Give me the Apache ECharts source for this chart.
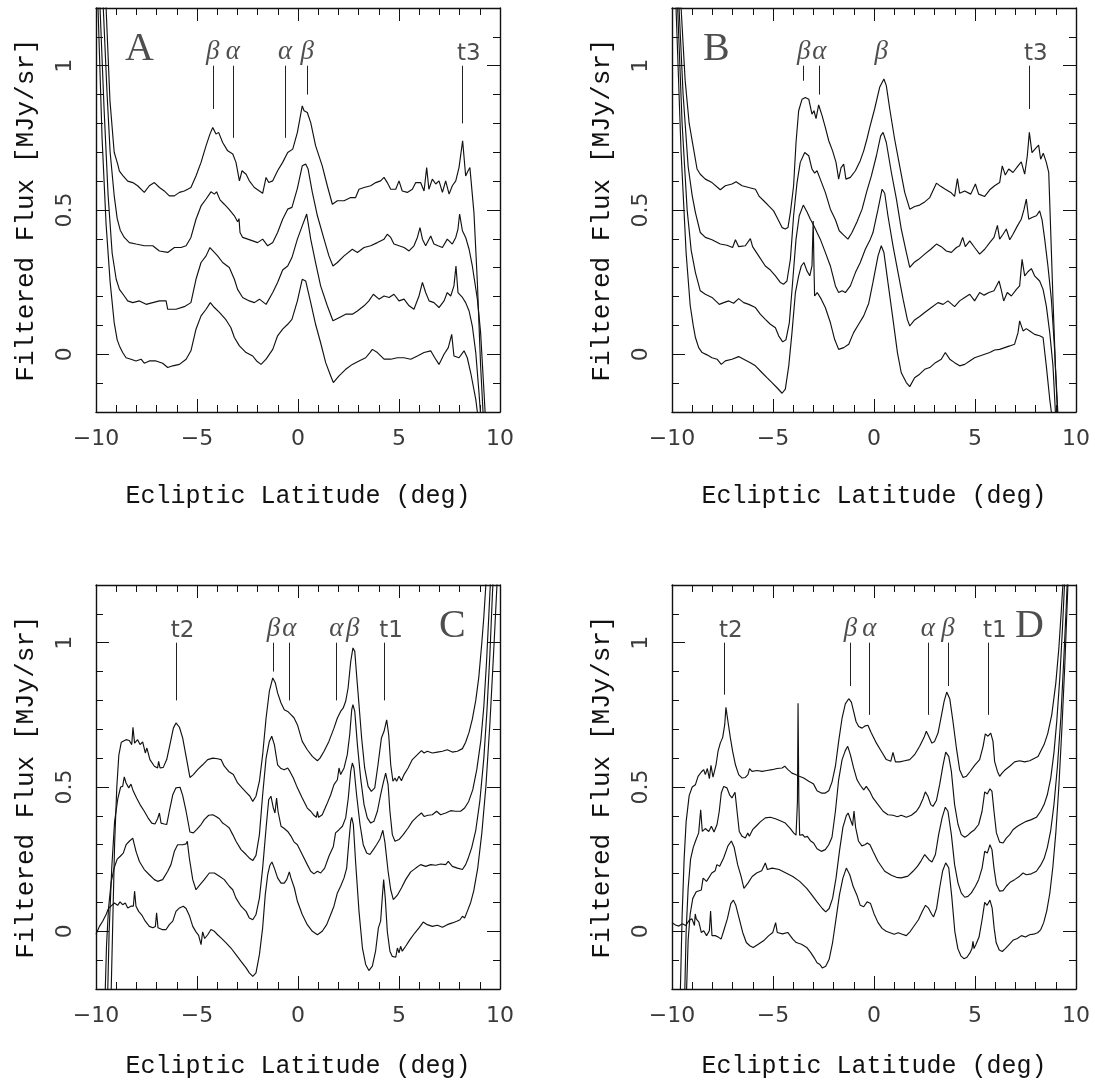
<!DOCTYPE html>
<html>
<head>
<meta charset="utf-8">
<script src="https://cdn.jsdelivr.net/npm/echarts@6/dist/echarts.min.js"></script>
<style>
html, body { margin: 0; padding: 0; background: #fff; }
#chart { width: 1095px; height: 1090px; }
</style>
</head>
<body>
<div id="chart"></div>
<script>
// tick labels
const latTicks = [-10, -5, 0, 5, 10];
const fluxTicks = [0, 0.5, 1];

// panel A, four scans (top to bottom), [latitude, flux]
const curveA1 = [[-9.62,1.45],[-9.5,1.2],[-9.31,0.88],[-9.1,0.7],[-8.93,0.66],[-8.84,0.635],[-8.68,0.62],[-8.43,0.6],[-8.18,0.595],[-7.94,0.584],[-7.61,0.561],[-7.36,0.584],[-7.11,0.595],[-6.86,0.578],[-6.62,0.566],[-6.37,0.549],[-6.12,0.549],[-5.87,0.561],[-5.63,0.566],[-5.46,0.572],[-5.3,0.578],[-5.05,0.618],[-4.8,0.665],[-4.55,0.723],[-4.36,0.763],[-4.22,0.786],[-4.06,0.763],[-3.93,0.769],[-3.73,0.734],[-3.48,0.705],[-3.23,0.694],[-3.07,0.665],[-2.9,0.601],[-2.77,0.636],[-2.57,0.624],[-2.41,0.601],[-2.16,0.578],[-1.91,0.566],[-1.75,0.558],[-1.58,0.613],[-1.45,0.595],[-1.25,0.601],[-1.01,0.636],[-0.76,0.665],[-0.51,0.699],[-0.26,0.711],[-0.03,0.769],[0.21,0.861],[0.3,0.844],[0.46,0.838],[0.63,0.803],[0.87,0.723],[1.2,0.653],[1.45,0.584],[1.7,0.52],[1.95,0.532],[2.28,0.532],[2.61,0.543],[2.85,0.543],[3.02,0.572],[3.27,0.578],[3.6,0.584],[3.85,0.595],[4.09,0.601],[4.26,0.613],[4.42,0.595],[4.59,0.572],[4.84,0.572],[5.0,0.601],[5.16,0.566],[5.41,0.561],[5.66,0.572],[5.83,0.595],[6.07,0.595],[6.24,0.566],[6.37,0.647],[6.48,0.572],[6.65,0.607],[6.82,0.59],[6.98,0.601],[7.15,0.561],[7.31,0.601],[7.48,0.555],[7.64,0.584],[7.81,0.601],[7.97,0.647],[8.15,0.74],[8.3,0.618],[8.42,0.636],[8.51,0.647],[8.71,0.491],[8.88,0.249],[9.04,-0.04],[9.16,-0.2],[9.29,-0.39]];
const curveA2 = [[-9.75,1.45],[-9.64,1.2],[-9.45,0.9],[-9.3,0.7],[-9.1,0.55],[-8.95,0.47],[-8.8,0.43],[-8.6,0.405],[-8.35,0.387],[-8.02,0.382],[-7.61,0.376],[-7.19,0.376],[-6.86,0.358],[-6.45,0.353],[-6.12,0.37],[-5.79,0.37],[-5.54,0.376],[-5.3,0.405],[-5.05,0.468],[-4.8,0.514],[-4.55,0.538],[-4.31,0.563],[-4.14,0.555],[-4.03,0.563],[-3.86,0.535],[-3.65,0.52],[-3.4,0.501],[-3.15,0.48],[-2.99,0.459],[-2.92,0.47],[-2.87,0.422],[-2.74,0.405],[-2.49,0.399],[-2.24,0.393],[-2.0,0.387],[-1.75,0.399],[-1.5,0.376],[-1.25,0.387],[-1.01,0.422],[-0.76,0.468],[-0.51,0.503],[-0.3,0.509],[-0.03,0.575],[0.21,0.653],[0.38,0.659],[0.5,0.642],[0.71,0.561],[0.96,0.48],[1.29,0.399],[1.53,0.341],[1.73,0.306],[1.95,0.318],[2.28,0.341],[2.69,0.364],[2.94,0.353],[3.27,0.37],[3.6,0.376],[3.93,0.387],[4.26,0.399],[4.42,0.416],[4.59,0.405],[4.75,0.382],[5.0,0.376],[5.25,0.37],[5.5,0.358],[5.74,0.376],[5.91,0.405],[6.04,0.439],[6.16,0.399],[6.32,0.376],[6.57,0.41],[6.73,0.382],[6.93,0.376],[7.15,0.37],[7.39,0.399],[7.64,0.382],[7.81,0.405],[7.92,0.434],[8.0,0.486],[8.14,0.428],[8.3,0.405],[8.47,0.364],[8.63,0.306],[8.88,0.191],[9.04,0.075],[9.21,-0.133],[9.27,-0.21],[9.35,-0.35]];
const curveA3 = [[-9.88,1.45],[-9.8,1.2],[-9.6,0.85],[-9.4,0.55],[-9.2,0.35],[-9.0,0.26],[-8.84,0.225],[-8.6,0.202],[-8.43,0.185],[-8.18,0.179],[-7.85,0.185],[-7.52,0.173],[-7.19,0.179],[-6.86,0.185],[-6.53,0.185],[-6.45,0.156],[-6.04,0.156],[-5.63,0.165],[-5.3,0.179],[-5.05,0.26],[-4.8,0.318],[-4.55,0.341],[-4.36,0.37],[-4.14,0.353],[-3.98,0.341],[-3.73,0.318],[-3.4,0.301],[-3.15,0.26],[-2.99,0.225],[-2.74,0.197],[-2.41,0.185],[-2.16,0.179],[-1.91,0.191],[-1.58,0.173],[-1.25,0.214],[-1.01,0.249],[-0.76,0.292],[-0.51,0.306],[-0.3,0.335],[-0.03,0.399],[0.21,0.445],[0.43,0.486],[0.63,0.399],[0.87,0.318],[1.12,0.237],[1.45,0.168],[1.73,0.116],[2.03,0.127],[2.36,0.139],[2.69,0.139],[2.94,0.15],[3.27,0.168],[3.51,0.185],[3.73,0.208],[4.01,0.191],[4.26,0.202],[4.51,0.197],[4.75,0.208],[5.0,0.185],[5.25,0.191],[5.5,0.168],[5.74,0.156],[5.99,0.202],[6.16,0.249],[6.32,0.214],[6.49,0.185],[6.73,0.179],[6.98,0.162],[7.23,0.185],[7.39,0.214],[7.56,0.202],[7.72,0.237],[7.82,0.306],[7.92,0.214],[8.14,0.197],[8.3,0.179],[8.47,0.15],[8.63,0.098],[8.8,0.006],[8.96,-0.133],[9.04,-0.21],[9.12,-0.33]];
const curveA4 = [[-9.96,1.45],[-9.9,1.2],[-9.7,0.75],[-9.5,0.45],[-9.3,0.25],[-9.1,0.11],[-8.95,0.05],[-8.84,0.029],[-8.68,0.006],[-8.51,-0.012],[-8.27,-0.017],[-8.02,-0.023],[-7.77,-0.017],[-7.61,-0.031],[-7.36,-0.023],[-7.03,-0.023],[-6.7,-0.031],[-6.45,-0.046],[-6.2,-0.04],[-5.87,-0.035],[-5.54,-0.017],[-5.3,0.012],[-5.05,0.087],[-4.8,0.133],[-4.55,0.156],[-4.34,0.179],[-4.14,0.162],[-3.89,0.145],[-3.56,0.119],[-3.32,0.092],[-3.15,0.058],[-2.9,0.029],[-2.57,0.006],[-2.24,-0.006],[-2.05,-0.023],[-1.83,-0.035],[-1.58,-0.017],[-1.25,0.017],[-1.01,0.064],[-0.76,0.087],[-0.51,0.104],[-0.3,0.121],[-0.03,0.185],[0.21,0.26],[0.38,0.254],[0.63,0.179],[0.87,0.104],[1.12,0.04],[1.37,-0.029],[1.62,-0.075],[1.75,-0.098],[2.03,-0.075],[2.36,-0.052],[2.69,-0.035],[3.02,-0.023],[3.35,-0.012],[3.56,0.006],[3.68,0.017],[3.93,0.006],[4.26,-0.017],[4.59,-0.017],[4.92,-0.012],[5.25,-0.012],[5.58,-0.017],[5.91,-0.006],[6.24,0.006],[6.57,0.012],[6.77,-0.012],[6.98,-0.035],[7.23,0.0],[7.44,0.023],[7.61,0.069],[7.72,-0.006],[7.97,-0.012],[8.22,0.012],[8.38,-0.012],[8.55,-0.064],[8.8,-0.156],[8.88,-0.2],[8.98,-0.3]];

// panel B
const curveB1 = [[-9.65,1.45],[-9.55,1.2],[-9.35,0.95],[-9.15,0.8],[-8.93,0.711],[-8.76,0.642],[-8.6,0.624],[-8.35,0.607],[-8.02,0.595],[-7.61,0.57],[-7.36,0.584],[-7.03,0.59],[-6.83,0.598],[-6.53,0.584],[-6.2,0.578],[-5.87,0.572],[-5.68,0.547],[-5.46,0.532],[-5.21,0.514],[-4.97,0.497],[-4.8,0.474],[-4.55,0.439],[-4.39,0.434],[-4.26,0.439],[-4.14,0.491],[-3.98,0.584],[-3.86,0.734],[-3.73,0.844],[-3.56,0.884],[-3.4,0.89],[-3.23,0.884],[-3.07,0.832],[-2.97,0.844],[-2.87,0.817],[-2.74,0.864],[-2.57,0.827],[-2.41,0.786],[-2.24,0.74],[-2.05,0.705],[-1.88,0.665],[-1.75,0.607],[-1.63,0.647],[-1.5,0.659],[-1.39,0.607],[-1.17,0.613],[-0.92,0.636],[-0.68,0.671],[-0.51,0.705],[-0.35,0.746],[-0.21,0.786],[0.03,0.85],[0.28,0.925],[0.49,0.954],[0.61,0.931],[0.78,0.85],[1.02,0.746],[1.27,0.653],[1.52,0.561],[1.77,0.503],[2.01,0.512],[2.26,0.517],[2.51,0.528],[2.76,0.543],[3.09,0.593],[3.3,0.582],[3.53,0.572],[3.8,0.561],[3.99,0.547],[4.13,0.609],[4.24,0.558],[4.49,0.566],[4.79,0.555],[5.02,0.59],[5.18,0.555],[5.48,0.547],[5.73,0.57],[5.97,0.584],[6.22,0.595],[6.35,0.653],[6.5,0.621],[6.67,0.642],[6.88,0.63],[7.13,0.653],[7.29,0.667],[7.46,0.624],[7.59,0.688],[7.69,0.769],[7.82,0.699],[7.99,0.713],[8.15,0.725],[8.25,0.676],[8.38,0.697],[8.53,0.665],[8.65,0.63],[8.75,0.422],[8.86,0.191],[8.98,-0.04],[9.11,-0.214],[9.2,-0.35]];
const curveB2 = [[-9.75,1.45],[-9.65,1.2],[-9.45,0.9],[-9.2,0.65],[-9.0,0.55],[-8.84,0.491],[-8.6,0.422],[-8.35,0.405],[-8.02,0.397],[-7.61,0.382],[-7.28,0.378],[-7.0,0.37],[-6.86,0.397],[-6.7,0.373],[-6.37,0.376],[-6.12,0.401],[-6.01,0.373],[-5.71,0.341],[-5.38,0.306],[-5.13,0.292],[-4.88,0.272],[-4.64,0.249],[-4.47,0.243],[-4.31,0.254],[-4.14,0.329],[-3.98,0.48],[-3.81,0.595],[-3.65,0.665],[-3.43,0.699],[-3.23,0.688],[-3.07,0.642],[-2.94,0.628],[-2.82,0.636],[-2.66,0.607],[-2.41,0.561],[-2.16,0.503],[-1.91,0.466],[-1.72,0.428],[-1.5,0.413],[-1.29,0.399],[-1.09,0.422],[-0.84,0.459],[-0.59,0.503],[-0.35,0.566],[-0.13,0.618],[0.12,0.688],[0.33,0.757],[0.45,0.769],[0.61,0.734],[0.86,0.63],[1.11,0.538],[1.35,0.434],[1.6,0.353],[1.77,0.301],[1.98,0.318],[2.21,0.329],[2.51,0.347],[2.81,0.364],[3.09,0.382],[3.33,0.373],[3.58,0.358],[3.83,0.353],[4.08,0.37],[4.24,0.376],[4.39,0.405],[4.52,0.373],[4.74,0.393],[4.98,0.37],[5.23,0.347],[5.48,0.364],[5.73,0.387],[5.94,0.405],[6.11,0.447],[6.22,0.399],[6.39,0.416],[6.55,0.434],[6.72,0.397],[6.88,0.416],[7.1,0.445],[7.29,0.468],[7.43,0.503],[7.54,0.538],[7.66,0.468],[7.82,0.474],[8.04,0.48],[8.2,0.497],[8.32,0.466],[8.45,0.399],[8.61,0.306],[8.78,0.191],[8.94,0.017],[9.08,-0.2],[9.15,-0.32]];
const curveB3 = [[-9.82,1.45],[-9.72,1.2],[-9.5,0.8],[-9.25,0.5],[-9.05,0.36],[-8.84,0.283],[-8.6,0.22],[-8.35,0.208],[-8.02,0.197],[-7.66,0.173],[-7.44,0.179],[-7.19,0.185],[-6.95,0.177],[-6.7,0.193],[-6.45,0.179],[-6.2,0.173],[-5.87,0.162],[-5.63,0.139],[-5.38,0.121],[-5.13,0.104],[-4.88,0.092],[-4.72,0.064],[-4.52,0.043],[-4.36,0.05],[-4.19,0.11],[-4.03,0.249],[-3.86,0.399],[-3.7,0.48],[-3.5,0.517],[-3.32,0.494],[-3.15,0.468],[-3.04,0.454],[-2.9,0.434],[-2.82,0.422],[-2.66,0.399],[-2.41,0.353],[-2.16,0.306],[-1.91,0.237],[-1.75,0.214],[-1.58,0.22],[-1.42,0.214],[-1.17,0.237],[-0.92,0.283],[-0.68,0.318],[-0.43,0.364],[-0.18,0.399],[-0.05,0.422],[0.2,0.503],[0.4,0.572],[0.53,0.558],[0.69,0.48],[0.94,0.376],[1.19,0.283],[1.44,0.191],[1.65,0.121],[1.77,0.098],[2.01,0.119],[2.26,0.131],[2.51,0.145],[2.84,0.162],[3.17,0.179],[3.42,0.173],[3.66,0.185],[3.99,0.165],[4.24,0.185],[4.49,0.197],[4.74,0.208],[4.98,0.185],[5.23,0.214],[5.45,0.205],[5.69,0.214],[5.94,0.22],[6.19,0.254],[6.3,0.223],[6.42,0.185],[6.6,0.214],[6.8,0.202],[7.05,0.225],[7.21,0.237],[7.33,0.329],[7.46,0.272],[7.62,0.286],[7.79,0.297],[7.95,0.272],[8.2,0.254],[8.37,0.225],[8.53,0.168],[8.7,0.075],[8.86,-0.04],[8.98,-0.2],[9.05,-0.3]];
const curveB4 = [[-9.9,1.45],[-9.8,1.2],[-9.55,0.7],[-9.3,0.35],[-9.1,0.17],[-8.95,0.1],[-8.84,0.058],[-8.68,0.023],[-8.51,0.006],[-8.27,-0.002],[-8.02,-0.012],[-7.77,-0.017],[-7.56,-0.035],[-7.36,-0.023],[-7.03,-0.017],[-6.7,-0.008],[-6.45,-0.017],[-6.12,-0.029],[-5.87,-0.04],[-5.54,-0.064],[-5.3,-0.081],[-5.05,-0.098],[-4.8,-0.116],[-4.55,-0.135],[-4.39,-0.121],[-4.22,-0.04],[-4.06,0.075],[-3.89,0.214],[-3.73,0.272],[-3.6,0.306],[-3.47,0.318],[-3.32,0.289],[-3.18,0.272],[-3.07,0.306],[-3.01,0.462],[-2.97,0.3],[-2.94,0.202],[-2.81,0.214],[-2.61,0.191],[-2.41,0.162],[-2.16,0.11],[-1.95,0.052],[-1.75,0.017],[-1.5,0.023],[-1.25,0.035],[-1.01,0.075],[-0.76,0.104],[-0.51,0.133],[-0.26,0.177],[-0.05,0.25],[0.2,0.341],[0.36,0.376],[0.49,0.353],[0.69,0.249],[0.94,0.121],[1.16,0.006],[1.35,-0.064],[1.6,-0.098],[1.77,-0.112],[2.01,-0.081],[2.26,-0.069],[2.51,-0.052],[2.76,-0.046],[3.04,-0.029],[3.33,-0.017],[3.53,0.006],[3.75,-0.017],[3.99,-0.029],[4.24,-0.04],[4.49,-0.035],[4.74,-0.023],[4.98,-0.012],[5.23,-0.006],[5.48,0.0],[5.73,0.006],[5.97,0.015],[6.22,0.017],[6.47,0.023],[6.72,0.029],[6.96,0.035],[7.13,0.075],[7.21,0.116],[7.38,0.081],[7.54,0.089],[7.71,0.081],[7.95,0.069],[8.2,0.064],[8.37,0.058],[8.53,-0.04],[8.7,-0.156],[8.78,-0.2],[8.85,-0.3]];

// panel C
const curveC1 = [[-9.28,-0.3],[-9.18,0.0],[-9.08,0.3],[-8.97,0.5],[-8.87,0.61],[-8.75,0.655],[-8.68,0.658],[-8.51,0.664],[-8.35,0.661],[-8.23,0.647],[-8.17,0.707],[-8.09,0.652],[-7.94,0.664],[-7.82,0.647],[-7.69,0.656],[-7.56,0.618],[-7.48,0.635],[-7.33,0.595],[-7.11,0.572],[-6.95,0.566],[-6.9,0.589],[-6.83,0.566],[-6.67,0.568],[-6.5,0.595],[-6.34,0.647],[-6.17,0.704],[-6.04,0.722],[-5.87,0.707],[-5.71,0.67],[-5.54,0.606],[-5.35,0.533],[-5.18,0.543],[-4.97,0.56],[-4.72,0.577],[-4.47,0.595],[-4.22,0.6],[-3.98,0.598],[-3.81,0.595],[-3.65,0.572],[-3.43,0.554],[-3.2,0.543],[-2.99,0.514],[-2.77,0.497],[-2.54,0.48],[-2.38,0.468],[-2.24,0.45],[-2.08,0.468],[-1.91,0.52],[-1.75,0.612],[-1.58,0.739],[-1.42,0.831],[-1.25,0.878],[-1.12,0.86],[-1.01,0.826],[-0.84,0.791],[-0.68,0.768],[-0.51,0.762],[-0.35,0.751],[-0.2,0.74],[-0.03,0.716],[0.21,0.658],[0.46,0.629],[0.71,0.606],[0.96,0.591],[1.09,0.6],[1.29,0.624],[1.53,0.658],[1.78,0.704],[1.95,0.739],[2.11,0.762],[2.24,0.774],[2.36,0.797],[2.48,0.843],[2.61,0.935],[2.72,0.982],[2.81,0.97],[2.9,0.889],[3.02,0.785],[3.15,0.67],[3.3,0.566],[3.47,0.502],[3.63,0.485],[3.8,0.497],[3.96,0.577],[4.13,0.67],[4.26,0.693],[4.39,0.733],[4.49,0.681],[4.59,0.577],[4.7,0.52],[4.8,0.531],[4.88,0.52],[5.0,0.537],[5.12,0.522],[5.25,0.543],[5.45,0.566],[5.66,0.595],[5.91,0.612],[6.11,0.626],[6.24,0.618],[6.4,0.624],[6.65,0.618],[6.9,0.621],[7.15,0.624],[7.39,0.629],[7.64,0.621],[7.89,0.624],[8.14,0.633],[8.3,0.655],[8.47,0.69],[8.63,0.735],[8.8,0.8],[8.95,0.88],[9.1,1.0],[9.2,1.09],[9.3,1.2],[9.4,1.32]];
const curveC2 = [[-9.45,-0.3],[-9.35,0.0],[-9.22,0.22],[-9.08,0.38],[-8.92,0.46],[-8.78,0.5],[-8.68,0.502],[-8.6,0.535],[-8.51,0.514],[-8.38,0.497],[-8.27,0.51],[-8.15,0.485],[-7.99,0.462],[-7.82,0.439],[-7.61,0.416],[-7.44,0.395],[-7.24,0.375],[-7.08,0.372],[-6.95,0.39],[-6.86,0.41],[-6.78,0.375],[-6.62,0.372],[-6.5,0.37],[-6.37,0.416],[-6.2,0.473],[-6.04,0.497],[-5.84,0.499],[-5.71,0.471],[-5.54,0.416],[-5.35,0.344],[-5.18,0.341],[-5.02,0.352],[-4.8,0.37],[-4.64,0.387],[-4.42,0.402],[-4.22,0.404],[-4.06,0.398],[-3.89,0.39],[-3.73,0.375],[-3.56,0.367],[-3.4,0.358],[-3.23,0.335],[-3.07,0.312],[-2.82,0.283],[-2.57,0.266],[-2.38,0.252],[-2.24,0.245],[-2.08,0.263],[-1.91,0.335],[-1.75,0.473],[-1.58,0.6],[-1.42,0.658],[-1.3,0.676],[-1.17,0.647],[-1.01,0.577],[-0.84,0.564],[-0.68,0.56],[-0.51,0.566],[-0.4,0.554],[-0.23,0.531],[-0.03,0.497],[0.21,0.462],[0.46,0.427],[0.63,0.416],[0.79,0.402],[0.91,0.395],[0.96,0.416],[1.02,0.395],[1.2,0.404],[1.42,0.439],[1.62,0.473],[1.78,0.508],[1.95,0.525],[2.03,0.566],[2.11,0.543],[2.28,0.566],[2.44,0.612],[2.56,0.681],[2.66,0.768],[2.72,0.785],[2.81,0.762],[2.94,0.647],[3.1,0.531],[3.27,0.439],[3.43,0.393],[3.6,0.375],[3.76,0.381],[3.93,0.416],[4.09,0.473],[4.22,0.514],[4.34,0.548],[4.46,0.508],[4.55,0.416],[4.67,0.335],[4.8,0.312],[5.0,0.318],[5.21,0.335],[5.45,0.358],[5.66,0.381],[5.91,0.398],[6.11,0.41],[6.24,0.398],[6.44,0.402],[6.65,0.404],[6.86,0.416],[7.06,0.404],[7.31,0.41],[7.56,0.418],[7.8,0.416],[8.05,0.416],[8.25,0.427],[8.45,0.45],[8.65,0.49],[8.85,0.56],[9.05,0.66],[9.2,0.78],[9.33,0.93],[9.45,1.1],[9.52,1.2],[9.6,1.33]];
const curveC3 = [[-9.58,-0.3],[-9.48,-0.05],[-9.38,0.08],[-9.25,0.17],[-9.1,0.22],[-8.95,0.25],[-8.8,0.26],[-8.65,0.271],[-8.51,0.3],[-8.35,0.312],[-8.18,0.323],[-8.1,0.318],[-8.02,0.277],[-7.85,0.242],[-7.61,0.214],[-7.36,0.196],[-7.11,0.179],[-6.95,0.173],[-6.7,0.179],[-6.45,0.208],[-6.29,0.231],[-6.12,0.277],[-5.96,0.3],[-5.71,0.3],[-5.54,0.303],[-5.48,0.312],[-5.38,0.254],[-5.21,0.179],[-5.05,0.144],[-4.85,0.162],[-4.64,0.179],[-4.39,0.202],[-4.14,0.202],[-3.89,0.191],[-3.65,0.179],[-3.4,0.156],[-3.23,0.144],[-3.07,0.115],[-2.82,0.087],[-2.57,0.069],[-2.41,0.046],[-2.24,0.04],[-2.08,0.058],[-1.91,0.115],[-1.75,0.219],[-1.58,0.358],[-1.45,0.456],[-1.34,0.468],[-1.22,0.427],[-1.14,0.41],[-1.06,0.462],[-0.99,0.416],[-0.84,0.364],[-0.68,0.356],[-0.51,0.346],[-0.35,0.33],[-0.2,0.31],[-0.03,0.3],[0.21,0.266],[0.46,0.231],[0.63,0.208],[0.79,0.199],[0.96,0.208],[1.12,0.202],[1.32,0.219],[1.53,0.26],[1.75,0.294],[1.86,0.341],[2.03,0.352],[2.2,0.364],[2.36,0.393],[2.49,0.462],[2.61,0.554],[2.69,0.583],[2.77,0.566],[2.9,0.473],[3.07,0.37],[3.23,0.3],[3.4,0.271],[3.56,0.266],[3.73,0.283],[3.89,0.3],[4.06,0.32],[4.2,0.35],[4.3,0.31],[4.46,0.208],[4.59,0.144],[4.72,0.11],[4.92,0.125],[5.12,0.15],[5.33,0.179],[5.58,0.206],[5.83,0.219],[6.07,0.231],[6.32,0.225],[6.57,0.231],[6.82,0.229],[7.06,0.233],[7.31,0.231],[7.44,0.242],[7.64,0.225],[7.89,0.219],[8.14,0.214],[8.3,0.231],[8.42,0.252],[8.6,0.29],[8.8,0.35],[9.0,0.45],[9.2,0.6],[9.35,0.76],[9.5,0.96],[9.62,1.16],[9.66,1.22],[9.72,1.33]];
const curveC4 = [[-10,-0.01],[-9.83,0.017],[-9.67,0.035],[-9.5,0.058],[-9.37,0.081],[-9.26,0.087],[-9.09,0.098],[-8.93,0.09],[-8.81,0.102],[-8.68,0.092],[-8.55,0.098],[-8.43,0.081],[-8.27,0.087],[-8.15,0.087],[-8.09,0.139],[-8.02,0.087],[-7.89,0.069],[-7.72,0.055],[-7.56,0.035],[-7.36,0.017],[-7.19,0.012],[-7.06,0.017],[-7.0,0.064],[-6.93,0.012],[-6.73,0.006],[-6.53,0.006],[-6.37,0.023],[-6.2,0.035],[-6.04,0.069],[-5.87,0.081],[-5.68,0.087],[-5.54,0.079],[-5.38,0.055],[-5.21,0.017],[-5.05,-0.002],[-4.92,-0.014],[-4.8,-0.046],[-4.72,-0.002],[-4.62,-0.025],[-4.47,-0.012],[-4.31,0.006],[-4.14,0.0],[-3.98,-0.012],[-3.81,-0.023],[-3.56,-0.04],[-3.32,-0.058],[-3.07,-0.081],[-2.82,-0.104],[-2.57,-0.127],[-2.41,-0.144],[-2.24,-0.156],[-2.08,-0.144],[-1.91,-0.081],[-1.75,0.012],[-1.62,0.127],[-1.5,0.196],[-1.39,0.229],[-1.29,0.24],[-1.17,0.219],[-1.01,0.185],[-0.84,0.167],[-0.68,0.167],[-0.56,0.179],[-0.43,0.206],[-0.35,0.185],[-0.18,0.15],[-0.03,0.104],[0.21,0.058],[0.46,0.023],[0.71,0.0],[0.96,-0.012],[1.2,0.0],[1.42,0.023],[1.62,0.058],[1.78,0.087],[1.95,0.133],[2.11,0.156],[2.28,0.185],[2.41,0.219],[2.52,0.312],[2.61,0.381],[2.66,0.395],[2.74,0.37],[2.85,0.242],[3.02,0.069],[3.19,-0.058],[3.35,-0.115],[3.51,-0.136],[3.68,-0.121],[3.84,-0.069],[3.98,0.012],[4.09,0.035],[4.17,0.115],[4.24,0.179],[4.32,0.115],[4.42,0.0],[4.55,-0.069],[4.67,-0.087],[4.84,-0.09],[4.92,-0.058],[5.0,-0.075],[5.08,-0.052],[5.16,-0.069],[5.33,-0.052],[5.54,-0.029],[5.78,-0.006],[5.99,0.012],[6.2,0.032],[6.4,0.023],[6.65,0.017],[6.9,0.021],[7.15,0.014],[7.39,0.023],[7.64,0.029],[7.86,0.035],[8.02,0.04],[8.14,0.052],[8.25,0.046],[8.38,0.069],[8.55,0.1],[8.7,0.14],[8.9,0.22],[9.1,0.34],[9.3,0.5],[9.5,0.72],[9.68,0.96],[9.85,1.2],[9.95,1.35]];

// panel D
const curveD1 = [[-9.6,-0.25],[-9.5,0.05],[-9.4,0.25],[-9.3,0.38],[-9.15,0.47],[-9.0,0.5],[-8.84,0.508],[-8.71,0.537],[-8.55,0.552],[-8.43,0.56],[-8.35,0.543],[-8.25,0.564],[-8.15,0.529],[-8.07,0.575],[-7.97,0.534],[-7.82,0.577],[-7.72,0.624],[-7.61,0.652],[-7.49,0.672],[-7.39,0.716],[-7.33,0.776],[-7.23,0.727],[-7.11,0.67],[-7.0,0.624],[-6.86,0.577],[-6.7,0.543],[-6.53,0.531],[-6.37,0.533],[-6.24,0.543],[-6.16,0.564],[-6.04,0.554],[-5.79,0.557],[-5.54,0.554],[-5.3,0.557],[-5.05,0.56],[-4.8,0.564],[-4.55,0.566],[-4.42,0.572],[-4.26,0.56],[-4.06,0.548],[-3.89,0.543],[-3.7,0.537],[-3.48,0.531],[-3.23,0.52],[-2.99,0.51],[-2.82,0.487],[-2.61,0.479],[-2.41,0.479],[-2.24,0.487],[-2.08,0.517],[-1.91,0.572],[-1.75,0.658],[-1.58,0.739],[-1.42,0.788],[-1.25,0.806],[-1.12,0.794],[-1.01,0.762],[-0.89,0.727],[-0.76,0.71],[-0.59,0.704],[-0.43,0.712],[-0.3,0.714],[-0.15,0.69],[0.12,0.652],[0.36,0.624],[0.61,0.595],[0.83,0.589],[0.94,0.62],[1.06,0.587],[1.27,0.587],[1.52,0.591],[1.77,0.595],[2.01,0.612],[2.26,0.641],[2.48,0.672],[2.59,0.693],[2.71,0.676],[2.87,0.652],[3.0,0.658],[3.17,0.687],[3.33,0.745],[3.47,0.797],[3.6,0.829],[3.75,0.806],[3.91,0.727],[4.08,0.635],[4.24,0.56],[4.41,0.533],[4.57,0.537],[4.74,0.552],[4.98,0.575],[5.23,0.595],[5.4,0.641],[5.51,0.684],[5.64,0.676],[5.78,0.687],[5.89,0.658],[5.97,0.589],[6.11,0.554],[6.22,0.537],[6.34,0.548],[6.5,0.56],[6.72,0.572],[6.96,0.587],[7.21,0.591],[7.46,0.587],[7.71,0.591],[7.95,0.6],[8.12,0.606],[8.25,0.624],[8.42,0.647],[8.6,0.685],[8.8,0.75],[9.0,0.86],[9.15,0.98],[9.28,1.12],[9.35,1.2],[9.42,1.32]];
const curveD2 = [[-9.38,-0.25],[-9.3,0.0],[-9.2,0.15],[-9.08,0.25],[-8.95,0.29],[-8.84,0.312],[-8.68,0.341],[-8.58,0.421],[-8.5,0.346],[-8.35,0.356],[-8.18,0.346],[-8.05,0.364],[-7.92,0.344],[-7.77,0.37],[-7.66,0.416],[-7.56,0.479],[-7.44,0.502],[-7.28,0.497],[-7.15,0.473],[-7.03,0.462],[-6.95,0.473],[-6.88,0.482],[-6.78,0.416],[-6.67,0.346],[-6.53,0.329],[-6.37,0.323],[-6.25,0.341],[-6.17,0.329],[-6.01,0.352],[-5.84,0.364],[-5.63,0.379],[-5.38,0.393],[-5.13,0.395],[-4.88,0.39],[-4.64,0.383],[-4.39,0.375],[-4.14,0.356],[-3.98,0.341],[-3.86,0.333],[-3.79,0.45],[-3.76,0.79],[-3.72,0.45],[-3.68,0.333],[-3.53,0.335],[-3.43,0.326],[-3.3,0.329],[-3.15,0.314],[-2.99,0.306],[-2.82,0.286],[-2.61,0.277],[-2.41,0.283],[-2.24,0.3],[-2.08,0.326],[-1.91,0.416],[-1.75,0.525],[-1.58,0.595],[-1.42,0.626],[-1.3,0.641],[-1.17,0.612],[-1.01,0.566],[-0.84,0.525],[-0.68,0.506],[-0.51,0.49],[-0.38,0.502],[-0.21,0.485],[-0.05,0.462],[0.2,0.439],[0.45,0.416],[0.69,0.404],[0.94,0.402],[1.16,0.397],[1.35,0.402],[1.6,0.395],[1.85,0.402],[2.1,0.416],[2.26,0.433],[2.43,0.46],[2.54,0.483],[2.67,0.468],[2.81,0.439],[2.92,0.433],[3.09,0.453],[3.25,0.508],[3.42,0.577],[3.55,0.621],[3.7,0.606],[3.83,0.554],[3.99,0.439],[4.16,0.37],[4.32,0.335],[4.49,0.326],[4.65,0.333],[4.82,0.344],[4.98,0.352],[5.18,0.37],[5.35,0.416],[5.48,0.483],[5.61,0.476],[5.74,0.494],[5.84,0.485],[5.94,0.416],[6.06,0.341],[6.22,0.309],[6.39,0.306],[6.55,0.323],[6.72,0.335],[6.88,0.352],[7.1,0.364],[7.29,0.372],[7.54,0.381],[7.79,0.387],[8.04,0.395],[8.25,0.416],[8.42,0.439],[8.58,0.473],[8.75,0.531],[8.91,0.62],[9.05,0.73],[9.2,0.88],[9.33,1.05],[9.43,1.2],[9.5,1.32]];
const curveD3 = [[-9.3,-0.25],[-9.2,-0.03],[-9.1,0.06],[-8.97,0.114],[-8.8,0.137],[-8.55,0.143],[-8.46,0.184],[-8.29,0.173],[-8.03,0.202],[-7.86,0.21],[-7.78,0.231],[-7.64,0.225],[-7.44,0.255],[-7.23,0.296],[-7.06,0.313],[-6.92,0.29],[-6.75,0.231],[-6.58,0.19],[-6.44,0.149],[-6.24,0.167],[-6.03,0.19],[-5.81,0.202],[-5.56,0.21],[-5.38,0.237],[-5.28,0.214],[-5.04,0.219],[-4.7,0.214],[-4.36,0.202],[-4.02,0.19],[-3.68,0.173],[-3.33,0.149],[-3.08,0.126],[-2.82,0.102],[-2.56,0.079],[-2.39,0.067],[-2.22,0.079],[-2.05,0.114],[-1.88,0.184],[-1.71,0.278],[-1.54,0.36],[-1.37,0.401],[-1.28,0.41],[-1.15,0.384],[-1.06,0.366],[-0.99,0.417],[-0.91,0.36],[-0.77,0.313],[-0.6,0.296],[-0.45,0.3],[-0.33,0.306],[-0.2,0.3],[-0.05,0.277],[0.2,0.242],[0.53,0.208],[0.86,0.194],[1.11,0.187],[1.35,0.185],[1.68,0.191],[1.93,0.208],[2.15,0.225],[2.34,0.245],[2.51,0.266],[2.59,0.27],[2.72,0.248],[2.87,0.24],[3.04,0.266],[3.2,0.335],[3.37,0.393],[3.53,0.43],[3.66,0.416],[3.83,0.335],[3.99,0.231],[4.16,0.167],[4.32,0.133],[4.49,0.118],[4.65,0.121],[4.82,0.133],[5.02,0.156],[5.18,0.179],[5.35,0.219],[5.48,0.277],[5.61,0.271],[5.74,0.3],[5.84,0.283],[5.94,0.219],[6.06,0.162],[6.22,0.139],[6.39,0.141],[6.55,0.156],[6.76,0.171],[6.96,0.179],[7.21,0.191],[7.38,0.202],[7.54,0.196],[7.79,0.199],[8.04,0.208],[8.25,0.229],[8.42,0.252],[8.58,0.29],[8.75,0.35],[8.91,0.44],[9.08,0.57],[9.25,0.74],[9.4,0.95],[9.52,1.13],[9.56,1.2],[9.62,1.32]];
const curveD4 = [[-10,0.03],[-9.83,0.022],[-9.66,0.018],[-9.49,0.026],[-9.32,0.02],[-9.15,0.038],[-9.01,0.043],[-8.89,0.02],[-8.85,0.06],[-8.8,0.043],[-8.67,0.032],[-8.55,-0.004],[-8.43,0.002],[-8.29,-0.015],[-8.15,0.002],[-8.09,0.07],[-8.02,-0.015],[-7.86,-0.015],[-7.69,-0.021],[-7.57,-0.027],[-7.44,0.002],[-7.26,0.043],[-7.09,0.096],[-6.96,0.108],[-6.84,0.09],[-6.67,0.043],[-6.5,-0.004],[-6.32,-0.039],[-6.15,-0.05],[-5.98,-0.056],[-5.73,-0.045],[-5.47,-0.033],[-5.21,-0.015],[-5.01,-0.004],[-4.87,0.03],[-4.79,-0.004],[-4.53,-0.009],[-4.27,-0.004],[-4.19,0.002],[-4.02,-0.027],[-3.85,-0.039],[-3.59,-0.045],[-3.33,-0.056],[-3.13,-0.074],[-2.96,-0.092],[-2.82,-0.109],[-2.68,-0.115],[-2.56,-0.127],[-2.39,-0.121],[-2.22,-0.097],[-2.05,-0.039],[-1.88,0.043],[-1.71,0.126],[-1.54,0.184],[-1.37,0.219],[-1.2,0.196],[-1.03,0.155],[-0.85,0.126],[-0.68,0.09],[-0.51,0.085],[-0.34,0.102],[-0.17,0.096],[0.0,0.061],[0.2,0.03],[0.4,0.01],[0.6,0.0],[0.8,-0.005],[1.0,-0.01],[1.2,-0.005],[1.4,-0.01],[1.6,-0.015],[1.8,0.0],[2.0,0.02],[2.2,0.04],[2.4,0.07],[2.55,0.09],[2.7,0.08],[2.85,0.06],[2.95,0.05],[3.1,0.08],[3.25,0.15],[3.4,0.21],[3.55,0.237],[3.7,0.22],[3.85,0.12],[4.0,0.0],[4.15,-0.06],[4.3,-0.085],[4.45,-0.095],[4.6,-0.09],[4.75,-0.075],[4.85,-0.06],[4.9,-0.035],[4.95,-0.06],[5.05,-0.045],[5.2,-0.02],[5.35,0.04],[5.48,0.1],[5.6,0.09],[5.74,0.108],[5.85,0.08],[5.95,0.01],[6.05,-0.04],[6.2,-0.065],[6.35,-0.07],[6.5,-0.06],[6.7,-0.045],[6.9,-0.03],[7.1,-0.025],[7.3,-0.015],[7.5,-0.02],[7.7,-0.012],[7.9,-0.01],[8.1,-0.005],[8.25,0.005],[8.4,0.03],[8.55,0.07],[8.7,0.13],[8.85,0.22],[9.0,0.34],[9.15,0.5],[9.3,0.7],[9.45,0.93],[9.6,1.2],[9.68,1.35]];

// feature marks: [latitude, lower end of marker (null = label only), label]
const marksA = [[-4.22, 0.85, 'β'], [-3.23, 0.75, 'α'], [-0.64, 0.75, 'α'], [0.46, 0.9, 'β'], [8.14, 0.8, 't3']];
const marksB = [[-3.48, 0.948, 'β'], [-2.71, 0.9, 'α'], [0.36, null, 'β'], [7.69, 0.85, 't3']];
const marksC = [[-6.04, 0.8, 't2'], [-1.22, 0.9, 'β'], [-0.43, 0.8, 'α'], [1.9, 0.8, 'α'], [2.71, null, 'β'], [4.29, 0.8, 't1']];
const marksD = [[-7.41, 0.82, 't2'], [-1.16, 0.85, 'β'], [-0.23, 0.75, 'α'], [2.67, 0.75, 'α'], [3.66, 0.85, 'β'], [5.66, 0.75, 't1']];
const panelNames = ['A', 'B', 'C', 'D'];
const panelNameLat = [-7.85, -7.8, 7.64, 7.7];

const panels = [
    {curves: [curveA1, curveA2, curveA3, curveA4], marks: marksA, left: 96, top: 8, xNameGap: 72},
    {curves: [curveB1, curveB2, curveB3, curveB4], marks: marksB, left: 672, top: 8, xNameGap: 72},
    {curves: [curveC1, curveC2, curveC3, curveC4], marks: marksC, left: 96, top: 585, xNameGap: 65},
    {curves: [curveD1, curveD2, curveD3, curveD4], marks: marksD, left: 672, top: 585, xNameGap: 65}
];

const ink = '#111';
const tickFont = 'DejaVu Sans';
const titleFont = 'Liberation Mono';

const grids = [], xAxes = [], yAxes = [], series = [];

panels.forEach((p, i) => {
    grids.push({left: p.left, top: p.top, width: 404, height: 404});

    // bottom axis carries labels, top one only mirrors the ticks
    ['bottom', 'top'].forEach(pos => {
        xAxes.push({
            gridIndex: i, type: 'value', position: pos,
            min: -10, max: 10, interval: 5,
            axisLine: {show: true, onZero: false, lineStyle: {color: ink, width: 1.4}},
            axisTick: {show: true, inside: true, length: 13, lineStyle: {color: ink, width: 1}},
            minorTick: {show: true, splitNumber: 5, length: 7, lineStyle: {color: ink, width: 1}},
            splitLine: {show: false},
            axisLabel: pos === 'bottom' ? {
                show: true, customValues: latTicks, margin: 16,
                fontFamily: tickFont, fontSize: 22, color: '#3a3a3a',
                formatter: v => (v < 0 ? '\u2212' + (-v) : String(v))
            } : {show: false},
            name: pos === 'bottom' ? 'Ecliptic Latitude (deg)' : '',
            nameLocation: 'middle', nameGap: p.xNameGap,
            nameTextStyle: {fontFamily: titleFont, fontSize: 25, color: ink}
        });
    });

    // y: major ticks at 0 / 0.5 / 1, minor ticks every 0.1, on both sides
    ['left', 'right'].forEach(pos => {
        yAxes.push({
            gridIndex: i, type: 'value', position: pos, min: -0.2, max: 1.2,
            axisLine: {show: true, onZero: false, lineStyle: {color: ink, width: 1.4}},
            axisTick: {show: true, inside: true, length: 13, customValues: fluxTicks, lineStyle: {color: ink, width: 1}},
            splitLine: {show: false},
            axisLabel: pos === 'left' ? {
                show: true, customValues: fluxTicks, rotate: 90, margin: 20,
                fontFamily: tickFont, fontSize: 22, color: '#3a3a3a'
            } : {show: false},
            name: pos === 'left' ? 'Filtered Flux [MJy/sr]' : '',
            nameLocation: 'middle', nameGap: 57, nameRotate: 90,
            nameTextStyle: {fontFamily: titleFont, fontSize: 26, color: ink}
        });
        yAxes.push({
            gridIndex: i, type: 'value', position: pos, min: -0.2, max: 1.2, interval: 0.1,
            axisLine: {show: false, onZero: false},
            axisTick: {show: true, inside: true, length: 7, lineStyle: {color: ink, width: 1}},
            splitLine: {show: false},
            axisLabel: {show: false}
        });
    });

    const xi = i * 2, yi = i * 4;
    p.curves.forEach(c => {
        series.push({
            type: 'line', xAxisIndex: xi, yAxisIndex: yi, data: c,
            showSymbol: false, symbol: 'none', clip: true, silent: true,
            lineStyle: {color: '#111', width: 1.15}
        });
    });

    // labels above the marker lines, plus the panel letter
    const labelData = p.marks.map(m => {
        const isT = m[2][0] === 't';
        return {
            value: [m[0] + (isT ? 0.32 : 0), 1.0],
            label: {
                formatter: m[2],
                fontFamily: isT ? tickFont : 'Liberation Serif',
                fontStyle: isT ? 'normal' : 'italic',
                fontSize: isT ? 23 : 27,
                color: '#222'
            }
        };
    });
    labelData.push({
        value: [panelNameLat[i], 1.0],
        label: {formatter: panelNames[i], fontFamily: 'Liberation Serif', fontSize: 40, color: '#222', distance: -4}
    });

    series.push({
        type: 'scatter', xAxisIndex: xi, yAxisIndex: yi, data: labelData,
        symbolSize: 0, silent: true,
        label: {show: true, position: 'top', distance: 0},
        markLine: {
            symbol: 'none', silent: true, animation: false,
            label: {show: false},
            lineStyle: {color: '#222', width: 1, type: 'solid'},
            data: p.marks.filter(m => m[1] !== null).map(m => [{coord: [m[0], m[1]]}, {coord: [m[0], 1.0]}])
        }
    });
});

const chart = echarts.init(document.getElementById('chart'));
chart.setOption({
    animation: false,
    backgroundColor: '#fff',
    grid: grids,
    xAxis: xAxes,
    yAxis: yAxes,
    series: series
});
</script>
</body>
</html>
